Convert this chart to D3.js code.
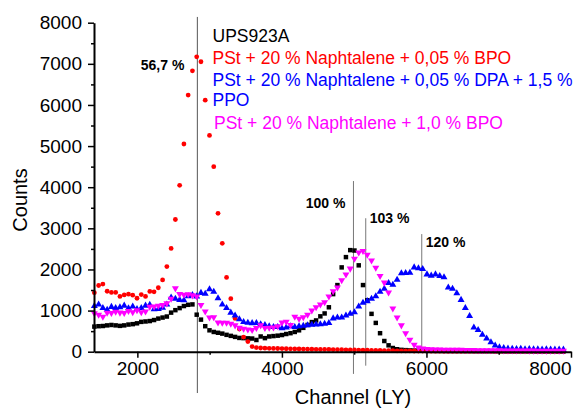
<!DOCTYPE html>
<html>
<head>
<meta charset="utf-8">
<script src="https://cdn.jsdelivr.net/npm/d3@7"></script>
<style>
  body { margin: 0; background: #fff; }
  svg { display: block; font-family: Arial, "Liberation Sans", sans-serif; }
  .axis path, .axis line { stroke: #000; }
  .axis text { fill: #000; }
</style>
</head>
<body>
<div id="chart"></div>
<script>
// channel positions of the spectrum points
const channels = [
  1405, 1464, 1523, 1582, 1641, 1700, 1759, 1818, 1877, 1936,
  1995, 2054, 2113, 2172, 2231, 2290, 2349, 2408, 2467, 2526,
  2585, 2644, 2703, 2762, 2821, 2880, 2939, 2998, 3057, 3116,
  3175, 3234, 3293, 3352, 3411, 3470, 3529, 3588, 3647, 3706,
  3765, 3824, 3883, 3942, 4001, 4060, 4119, 4178, 4237, 4296,
  4355, 4414, 4473, 4532, 4591, 4650, 4709, 4768, 4827, 4886,
  4945, 5004, 5063, 5122, 5181, 5240, 5299, 5358, 5417, 5476,
  5535, 5594, 5653, 5712, 5771, 5830, 5889, 5948, 6007, 6066,
  6125, 6184, 6243, 6302, 6361, 6420, 6479, 6538, 6597, 6656,
  6715, 6774, 6833, 6892, 6951, 7010, 7069, 7128, 7187, 7246,
  7305, 7364, 7423, 7482, 7541, 7600, 7659, 7718, 7777, 7836, 7895
];

// UPS923A reference
const ups923a = [
  610, 620, 625, 640, 650, 640, 628, 640, 660, 670,
  690, 725, 735, 745, 770, 805, 830, 855, 950, 1010,
  1060, 1110, 1140, 1150, 900, 780, 620, 520, 480, 460,
  440, 410, 385, 360, 335, 330, 325, 320, 285, 370,
  330, 370, 380, 390, 405, 430, 450, 480, 520, 580,
  650, 720, 760, 860, 930, 1080, 1400, 1620, 2050, 2300,
  2470, 2460, 2100, 1620, 1250, 920, 700, 450, 260, 155,
  90, 60, 45, 38, 32, 28, 25, 22, 20, 20,
  18, 18, 17, 16, 16, 15, 15, 14, 14, 13,
  13, 12, 12, 12, 11, 11, 10, 10, 10, 10,
  9, 9, 9, 8, 8, 8, 8, 7, 7, 7, 7
];

// PSt + 20 % Naphtalene + 0,05 % BPO
const bpo005 = [
  1435, 1610, 1645, 1470, 1440, 1440, 1345, 1380, 1400, 1375,
  1300, 1390, 1345, 1465, 1455, 1555, 1745, 2070, 2510, 3215,
  4045, 5050, 6240, 6830, 7170, 7050, 6115, 5260, 4500, 3365,
  2635, 1805, 1290, 810, 550, 355, 245, 125, 100, 90,
  85, 82, 80, 78, 75, 72, 70, 68, 66, 64,
  62, 60, 58, 56, 55, 54, 52, 50, 48, 46,
  44, 42, 40, 38, 36, 34, 32, 30, 28, 26,
  24, 22, 20, 19, 18, 17, 16, 15, 14, 13,
  12, 12, 11, 11, 10, 10, 10, 9, 9, 9,
  8, 8, 8, 8, 7, 7, 7, 7, 6, 6,
  6, 6, 6, 5, 5, 5, 5, 5, 5, 5, 5
];

// PSt + 20 % Naphtalene + 0,05 % DPA + 1,5 % PPO
const dpaPpo = [
  1110, 1150, 1060, 1020, 1090, 1060, 1080, 1120, 1055, 1100,
  1040, 1060, 1120, 1140, 1030, 1040, 1070, 1150, 1320, 1290,
  1260, 1250, 1350, 1380, 1345, 1430, 1410, 1520, 1460, 1300,
  1150, 1060, 950, 880, 790, 720, 705, 695, 700, 670,
  650, 620, 600, 600, 570, 590, 620, 600, 620, 630,
  645, 655, 660, 670, 680, 700, 810, 830, 830, 880,
  920, 960, 1100, 1190, 1230, 1290, 1350, 1460, 1530, 1670,
  1630, 1750, 1905, 1915, 1920, 2050, 2030, 2010, 1880, 1850,
  1880, 1840, 1810, 1560, 1530, 1420, 1260, 1060, 870, 590,
  530, 410, 320, 230, 150, 105, 90, 75, 70, 65,
  70, 60, 65, 60, 60, 55, 60, 55, 50, 55, 50
];

// PSt + 20 % Naphtalene + 1,0 % BPO
const bpo10 = [
  935, 900, 850, 945, 940, 970, 950, 940, 990, 960,
  1010, 960, 980, 1095, 1100, 1115, 1135, 1175, 1290, 1540,
  1400, 1385, 1395, 1370, 1340, 1135, 980, 830, 840, 710,
  705, 705, 680, 640, 580, 560, 540, 530, 575, 640,
  575, 580, 590, 620, 710, 730, 650, 850, 800, 840,
  900, 1000, 1080, 1150, 1200, 1340, 1470, 1560, 1740, 1880,
  2020, 2260, 2410, 2450, 2360, 2220, 2040, 1840, 1680, 1440,
  1050, 830, 640, 450, 290, 170, 100, 80, 65, 60,
  55, 55, 50, 50, 48, 45, 45, 42, 40, 40,
  38, 36, 35, 34, 33, 32, 30, 30, 29, 28,
  28, 27, 26, 26, 25, 25, 24, 24, 23, 23, 22
];

const xTicks = [2000, 4000, 6000, 8000];
const xMinorTicks = [3000, 5000, 7000];
const yTicks = [0, 1000, 2000, 3000, 4000, 5000, 6000, 7000, 8000];
const yMinorTicks = [500, 1500, 2500, 3500, 4500, 5500, 6500, 7500];

// peak marker lines and their percentage labels
const markChannels = [2830, 4990, 5160, 5935];
const markTops = [8140, 4150, 3245, 2860];
const markBottoms = [-1005, -540, -340, -30];
const markLabels = ['56,7 %', '100 %', '103 %', '120 %'];
const markLabelCounts = [6860, 3495, 3130, 2545];

const legendLines = [
  { text: 'UPS923A', color: '#000000' },
  { text: 'PSt + 20 % Naphtalene + 0,05 % BPO', color: '#ff0000' },
  { text: 'PSt + 20 % Naphtalene + 0,05 % DPA + 1,5 %', color: '#0000ff' },
  { text: 'PPO', color: '#0000ff' },
  { text: 'PSt + 20 % Naphtalene + 1,0 % BPO', color: '#ff00ff' }
];

const W = 573, H = 412;
const plot = { left: 94, right: 571, top: 22.7, bottom: 351.7 };

const svg = d3.select('#chart').append('svg')
  .attr('width', W).attr('height', H);

const x = d3.scaleLinear().domain([1400, 8000]).range([plot.left, plot.right]);
const y = d3.scaleLinear().domain([0, 8000]).range([plot.bottom, plot.top]);

// peak marker lines (behind the data)
markChannels.forEach((c, i) => {
  svg.append('line')
    .attr('x1', x(c)).attr('x2', x(c))
    .attr('y1', y(markTops[i])).attr('y2', y(markBottoms[i]))
    .attr('stroke', i === 0 ? '#555' : '#777').attr('stroke-width', 1);
});

// series
const series = [
  { values: ups923a, color: '#000000', symbol: d3.symbolSquare, size: 20, rot: 0 },
  { values: bpo005, color: '#ff0000', symbol: d3.symbolCircle, size: 18, rot: 0 },
  { values: dpaPpo, color: '#0000ff', symbol: d3.symbolTriangle, size: 21, rot: 0 },
  { values: bpo10, color: '#ff00ff', symbol: d3.symbolTriangle, size: 21, rot: 180 }
];

series.forEach(s => {
  const path = d3.symbol().type(s.symbol).size(s.size)();
  svg.append('g').selectAll('path')
    .data(channels.map((c, i) => [c, s.values[i]]))
    .join('path')
    .attr('d', path)
    .attr('fill', s.color)
    .attr('transform', d => `translate(${x(d[0])},${y(d[1])}) rotate(${s.rot})`);
});

// axes
const xAxis = svg.append('g').attr('class', 'axis')
  .attr('transform', `translate(0,${plot.bottom})`)
  .call(d3.axisBottom(x).tickValues(xTicks).tickSize(6).tickSizeOuter(0).tickPadding(4).tickFormat(d3.format('d')));
xAxis.selectAll('.tick').filter(d => d === 8000)
  .select('text').attr('text-anchor', 'end');
svg.append('g').attr('class', 'axis')
  .attr('transform', `translate(0,${plot.bottom})`)
  .call(d3.axisBottom(x).tickValues(xMinorTicks).tickSize(3).tickSizeOuter(0).tickFormat(''))
  .select('.domain').remove();

svg.append('g').attr('class', 'axis')
  .attr('transform', `translate(${plot.left},0)`)
  .call(d3.axisLeft(y).tickValues(yTicks).tickSize(6).tickSizeOuter(0).tickPadding(6).tickFormat(d3.format('d')));
svg.append('g').attr('class', 'axis')
  .attr('transform', `translate(${plot.left},0)`)
  .call(d3.axisLeft(y).tickValues(yMinorTicks).tickSize(3).tickSizeOuter(0).tickFormat(''))
  .select('.domain').remove();

svg.selectAll('.axis path.domain').attr('stroke-width', 2);
svg.selectAll('.axis line').attr('stroke-width', 1.5);
svg.selectAll('.axis text').style('font-size', '19px').style('font-family', 'Arial, "Liberation Sans", sans-serif');

// axis titles
svg.append('text')
  .attr('transform', 'translate(27,200) rotate(-90)')
  .attr('text-anchor', 'middle')
  .style('font-size', '20px')
  .text('Counts');
svg.append('text')
  .attr('x', 353).attr('y', 404)
  .attr('text-anchor', 'middle')
  .style('font-size', '20px')
  .text('Channel (LY)');

// percentage labels
const labelAnchor = ['end', 'end', 'start', 'start'];
const labelShift = [-13, -8, 4, 4];
markLabels.forEach((t, i) => {
  svg.append('text')
    .attr('x', x(markChannels[i]) + labelShift[i])
    .attr('y', y(markLabelCounts[i]))
    .attr('text-anchor', labelAnchor[i])
    .style('font-size', '14px').style('font-weight', 'bold')
    .text(t);
});

// legend text block
const legendBase = [42, 64.3, 85.7, 105.7, 129];
const legendX = [212.5, 212.5, 212.5, 212.5, 214];
legendLines.forEach((l, i) => {
  svg.append('text')
    .attr('x', legendX[i]).attr('y', legendBase[i])
    .attr('fill', l.color)
    .style('font-size', '17.5px')
    .text(l.text);
});
</script>
</body>
</html>
